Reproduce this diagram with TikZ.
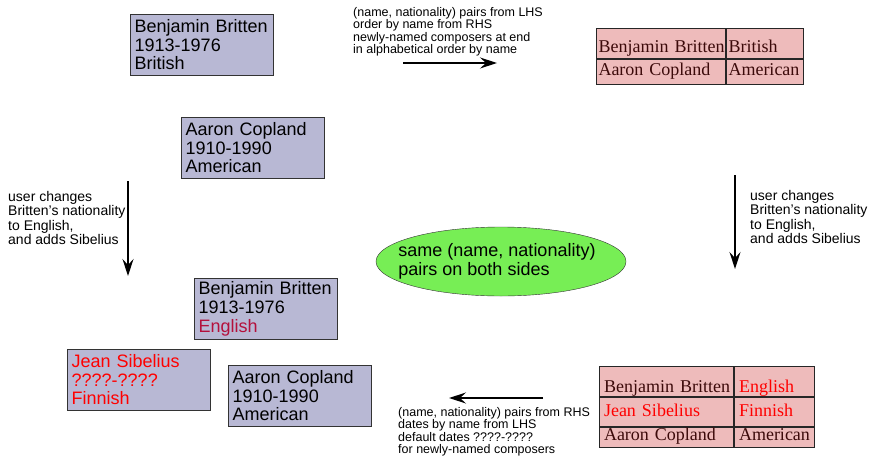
\documentclass[tikz,border=0pt]{standalone}
\usepackage{fontspec}
\setmainfont{Liberation Serif}
\setsansfont{Liberation Sans}
\usetikzlibrary{positioning,shapes.geometric,arrows.meta}

\definecolor{composerfill}{HTML}{B8B8D4}
\definecolor{tablefill}{HTML}{EEBBBB}
\definecolor{pairfill}{HTML}{77EE55}
\definecolor{tabletext}{HTML}{3C0A0A}
\definecolor{changed}{HTML}{B4103C}

\hyphenpenalty=10000
\exhyphenpenalty=10000

\tikzset{
  composer/.style = {draw=black!80, fill=composerfill, anchor=north west, align=left,
      text width=134pt, inner xsep=4.5pt, minimum height=61pt,
      font=\sffamily\fontsize{18}{18.8}\selectfont},
  cell/.style = {draw=black!85, line width=1pt, fill=tablefill, text=tabletext, align=left,
      inner ysep=0pt, inner xsep=2pt, font=\rmfamily\fontsize{18}{20}\selectfont},
  note/.style = {anchor=north west, align=left, inner sep=0pt,
      font=\sffamily\fontsize{12.5}{12.5}\selectfont},
  usernote/.style = {note, font=\sffamily\fontsize{14}{14.5}\selectfont},
  flow/.style = {-{Stealth[length=17pt,width=11pt,inset=6pt]}, line width=1.3pt},
}

\begin{document}
\begin{tikzpicture}[x=1pt, y=-1pt]
        \useasboundingbox (0,0) rectangle (869,455);
        % left hand side, before
        \node[composer] (britten) at (130,14) {Benjamin~Britten\\1913-1976\\British};
        \node[composer] (copland) at (181,117) {Aaron~Copland\\1910-1990\\American};
        % left hand side, after
        \node[composer] (brittenB) at (194,278) {Benjamin~Britten\\1913-1976\\\textcolor{changed}{English}};
        \node[composer, text=red] (sibelius) at (67,349) {Jean~Sibelius\\????-????\\Finnish};
        \node[composer] (coplandB) at (228,365) {Aaron~Copland\\1910-1990\\American};
        %
        % right hand side, before
        \node[cell, anchor=north west, text width=125pt, text height=24pt, text depth=6pt] (rb_name) at (596,28) {Benjamin~Britten};
        \node[cell, right = 0pt of rb_name, text width=73pt, text height=24pt, text depth=6pt] (rb_nat) {British};
        \node[cell, below = 0pt of rb_name, text width=125pt, text height=16pt, text depth=9pt] (rc_name) {Aaron~Copland};
        \node[cell, below = 0pt of rb_nat, text width=73pt, text height=16pt, text depth=9pt] (rc_nat) {American};
        %
        % right hand side, after
        \node[cell, anchor=north west, inner xsep=4.5pt, text width=125pt, text height=26pt, text depth=4pt] (rbB_name) at (599,366) {Benjamin~Britten};
        \node[cell, right = 0pt of rbB_name, inner xsep=4.5pt, text width=71pt, text height=26pt, text depth=4pt, text=red] (rbB_nat) {English};
        \node[cell, below = 0pt of rbB_name, inner xsep=4.5pt, text width=125pt, text height=19pt, text depth=10pt, text=red] (rs_name) {Jean~Sibelius};
        \node[cell, below = 0pt of rbB_nat, inner xsep=4.5pt, text width=71pt, text height=19pt, text depth=10pt, text=red] (rs_nat) {Finnish};
        \node[cell, below = 0pt of rs_name, inner xsep=4.5pt, text width=125pt, text height=13pt, text depth=7pt] (rcB_name) {Aaron~Copland};
        \node[cell, below = 0pt of rs_nat, inner xsep=4.5pt, text width=71pt, text height=13pt, text depth=7pt] (rcB_nat) {American};
        %
        \node[ellipse, draw=black!80, fill=pairfill, minimum width=250pt, minimum height=69pt, inner sep=0pt,
              label={[align=left, inner sep=0pt, xshift=-4pt, font=\sffamily\fontsize{18}{19}\selectfont]center:same (name, nationality)\\pairs on both sides}] (same) at (501,261.5) {};
        %
        % transformations
        \coordinate (put_from) at (403,63);
        \coordinate (put_to) at (497,63);
        \coordinate (left_from) at (128,181);
        \coordinate (left_to) at (128,276);
        \coordinate (right_from) at (735,175);
        \coordinate (right_to) at (735,269);
        \coordinate (get_from) at (543,398);
        \coordinate (get_to) at (449,398);
        %
        \draw[flow] (put_from) -- (put_to);
        \draw[flow] (left_from) -- (left_to);
        \draw[flow] (right_from) -- (right_to);
        \draw[flow] (get_from) -- (get_to);
        %
        \node[note] (put_note) at (353,7) {(name, nationality) pairs from LHS\\order by name from RHS\\newly-named composers at end\\in alphabetical order by name};
        \node[note] (get_note) at (398,407) {(name, nationality) pairs from RHS\\dates by name from LHS\\default dates ????-????\\for newly-named composers};
        \node[usernote] (left_note) at (8,191) {user changes\\Britten's nationality\\to English,\\and adds Sibelius};
        \node[usernote] (right_note) at (750,190) {user changes\\Britten's nationality\\to English,\\and adds Sibelius};
\end{tikzpicture}
\end{document}
